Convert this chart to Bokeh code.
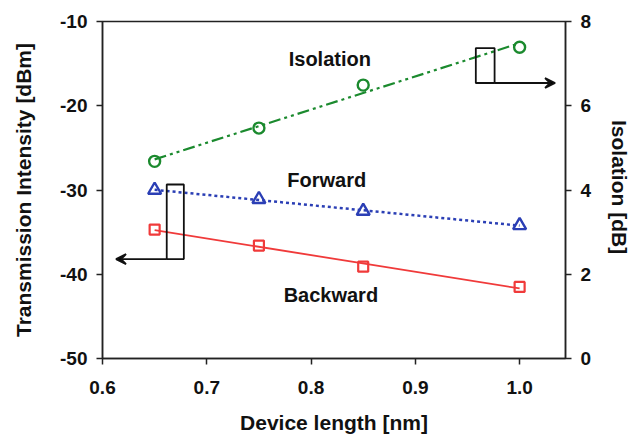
import numpy as np
from bokeh.plotting import figure
from bokeh.models import Range1d, LinearAxis, Label, Arrow, VeeHead, FixedTicker
from bokeh.embed import file_html
from bokeh.resources import INLINE

device_length = [0.65, 0.75, 0.85, 1.0]
forward = [-30.0, -31.1, -32.5, -34.2]
backward = [-34.7, -36.6, -39.1, -41.5]
isolation = [4.68, 5.47, 6.49, 7.39]

x_ticks = [0.6, 0.7, 0.8, 0.9, 1.0]
y_ticks = [-50, -40, -30, -20, -10]
iso_ticks = [0, 2, 4, 6, 8]

FONT = "Liberation Sans"
GREEN = "#1b8a2e"
BLUE = "#2b3fb5"
RED = "#f03a3a"

p = figure(width=634, height=436, output_backend="svg", toolbar_location=None,
           x_range=Range1d(0.6, 1.044), y_range=Range1d(-50, -10),
           min_border_left=102, min_border_right=67, min_border_top=21, min_border_bottom=76)
p.extra_y_ranges = {"iso": Range1d(0, 8)}
p.grid.visible = False
p.outline_line_color = "#222222"
p.outline_line_width = 1.5
p.background_fill_color = "white"
p.border_fill_color = "white"

def style_axis(ax, standoff, label_standoff):
    ax.axis_line_color = "#222222"
    ax.axis_line_width = 1.5
    ax.major_tick_line_color = "#222222"
    ax.major_tick_line_width = 1.5
    ax.major_tick_out = 6
    ax.major_tick_in = 0
    ax.minor_tick_line_color = None
    ax.major_label_text_font = FONT
    ax.major_label_text_font_style = "bold"
    ax.major_label_text_font_size = "19px"
    ax.major_label_text_color = "#111111"
    ax.major_label_standoff = standoff
    ax.axis_label_text_font = FONT
    ax.axis_label_text_font_style = "bold"
    ax.axis_label_text_font_size = "21px"
    ax.axis_label_text_color = "#111111"
    ax.axis_label_standoff = label_standoff

p.xaxis.ticker = FixedTicker(ticks=x_ticks)
p.xaxis.major_label_overrides = {t: f"{t:.1f}" for t in x_ticks}
p.xaxis.axis_label = "Device length [nm]"
p.yaxis.ticker = FixedTicker(ticks=y_ticks)
p.yaxis.major_label_overrides = {t: str(t) for t in y_ticks}
p.yaxis.axis_label = "Transmission Intensity [dBm]"
style_axis(p.xaxis[0], 16, 14)
style_axis(p.yaxis[0], 9, 22)

right = LinearAxis(y_range_name="iso", ticker=FixedTicker(ticks=iso_ticks), axis_label="Isolation  [dB]")
style_axis(right, 9, 14)
p.add_layout(right, "right")

xs = np.array(device_length)
xf = np.array([device_length[0], device_length[-1]])

def fit(y):
    c = np.polyfit(xs, np.array(y), 1)
    return np.polyval(c, xf)

# Isolation
p.line(xf, fit(isolation), y_range_name="iso", color=GREEN, line_width=2.2, line_dash="12 4 3 4 3 4")
p.scatter(device_length, isolation, y_range_name="iso", marker="circle", size=11,
          line_color=GREEN, line_width=2.4, fill_color=None)
# Forward
p.line(xf, fit(forward), color=BLUE, line_width=2.5, line_dash="3 3")
p.scatter(device_length, forward, marker="triangle", size=13,
          line_color=BLUE, line_width=2.4, fill_color=None)
# Backward
p.line(xf, fit(backward), color=RED, line_width=1.8)
p.scatter(device_length, backward, marker="square", size=10,
          line_color=RED, line_width=2.2, fill_color=None)

# Annotation boxes and arrows
p.quad(left=[0.6616], right=[0.678], bottom=[-38.2], top=[-29.35],
       fill_color=None, line_color="#111111", line_width=1.8)
p.add_layout(Arrow(x_start=0.6616, y_start=-38.2, x_end=0.613, y_end=-38.2,
                   line_width=1.8, line_color="#111111",
                   end=VeeHead(size=10, line_width=1.8, line_color="#111111")))
p.quad(left=[0.958], right=[0.976], bottom=[6.54], top=[7.37], y_range_name="iso",
       fill_color=None, line_color="#111111", line_width=1.8)
p.add_layout(Arrow(x_start=0.976, y_start=6.54, x_end=1.034, y_end=6.54, y_range_name="iso",
                   line_width=1.8, line_color="#111111",
                   end=VeeHead(size=10, line_width=1.8, line_color="#111111")))

for txt, x, y in [("Isolation", 0.818, -14.5), ("Forward", 0.815, -28.8), ("Backward", 0.819, -42.5)]:
    p.add_layout(Label(x=x, y=y, text=txt, text_font=FONT, text_font_style="bold",
                       text_font_size="20px", text_color="#111111",
                       text_align="center", text_baseline="middle"))

open("out.html", "w").write(file_html(p, INLINE))
